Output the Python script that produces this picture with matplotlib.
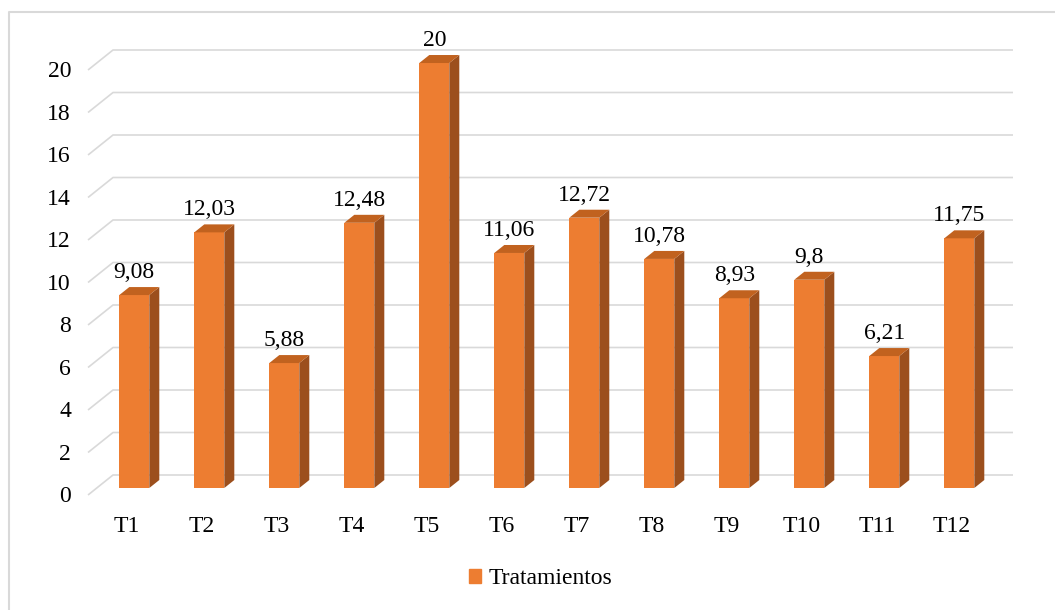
import matplotlib
matplotlib.use("Agg")
from matplotlib import pyplot as plt
from matplotlib.patches import Polygon, Patch
from matplotlib.lines import Line2D

# data
tratamientos = ["T1", "T2", "T3", "T4", "T5", "T6", "T7", "T8", "T9", "T10", "T11", "T12"]
valores = [9.08, 12.03, 5.88, 12.48, 20, 11.06, 12.72, 10.78, 8.93, 9.8, 6.21, 11.75]
etiquetas = ["9,08", "12,03", "5,88", "12,48", "20", "11,06", "12,72", "10,78", "8,93", "9,8", "6,21", "11,75"]
yticks = [0, 2, 4, 6, 8, 10, 12, 14, 16, 18, 20]

naranja = "#ed7d31"
naranja_top = "#c1621f"
naranja_lado = "#9c4f1d"
gris = "#d9d9d9"

plt.rcParams["font.family"] = ["Liberation Serif", "DejaVu Serif"]
plt.rcParams["font.size"] = 17

fig = plt.figure(figsize=(10.55, 6.1), dpi=100)
ax = fig.add_axes([0, 0, 1, 1])
ax.set_xlim(-1.7907, 12.276)
ax.set_ylim(-5.741, 22.965)
ax.axis("off")

# 3d offsets (bar depth, wall depth)
ancho = 0.4
dx, dy = 0.1333, 0.376
back_x0, back_x1, back_dy = -0.284, 11.716, 0.612
front_x, front_dy = -0.617, -0.329

# gridlines: diagonal floor edge + back wall
for v in yticks:
    ax.plot([front_x, back_x0, back_x1], [v + front_dy, v + back_dy, v + back_dy],
            color=gris, lw=1.2, zorder=1, solid_capstyle="butt")
    ax.text(-0.844, v + front_dy - 0.353, str(v), ha="right", va="baseline", zorder=3)

for i, (v, lab) in enumerate(zip(valores, etiquetas)):
    x0, x1 = i - ancho / 2, i + ancho / 2
    ax.bar(i, v, width=ancho, color=naranja, zorder=2)
    lado = Polygon([(x1, 0), (x1 + dx, dy), (x1 + dx, v + dy), (x1, v)],
                   closed=True, facecolor=naranja_lado, edgecolor="none", zorder=2)
    top = Polygon([(x0, v), (x0 + dx, v + dy), (x1 + dx, v + dy), (x1, v)],
                  closed=True, facecolor=naranja_top, edgecolor="none", zorder=2)
    ax.add_patch(lado)
    ax.add_patch(top)
    ax.text(i, v + dy + 0.42, lab, ha="center", va="baseline", zorder=3)
    ax.text(i - 0.1, -2.07, tratamientos[i], ha="center", va="baseline", zorder=3)

# chart border (left and top edges)
fig.add_artist(Line2D([9 / 1055, 9 / 1055, 1], [0, 1 - 12 / 610, 1 - 12 / 610],
                      transform=fig.transFigure, color=gris, lw=1.5))

ax.legend(handles=[Patch(color=naranja, label="Tratamientos")], loc="center",
          bbox_to_anchor=(540.5 / 1055, 1 - 579 / 610), bbox_transform=fig.transFigure,
          frameon=False, handlelength=0.5, handleheight=0.5, handletextpad=0.3,
          borderpad=0, fontsize=17)

plt.savefig("out.png", dpi=100)
